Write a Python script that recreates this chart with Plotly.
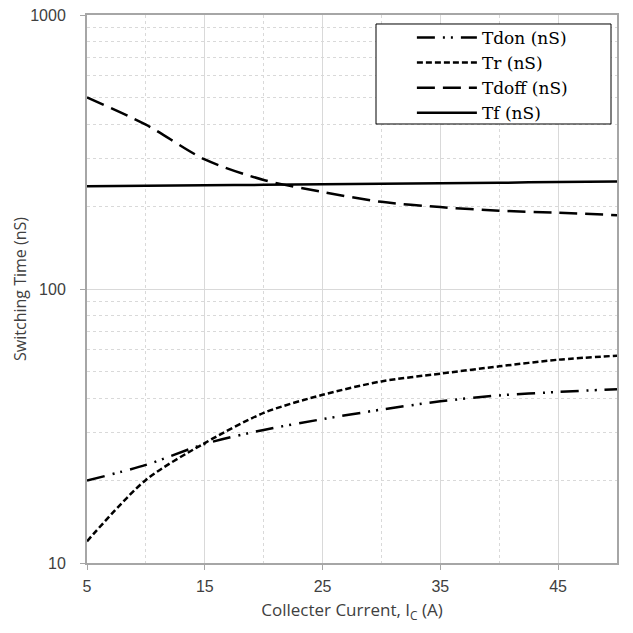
import plotly.graph_objects as go

ic = [5, 10, 15, 20, 25, 30, 35, 40, 45, 50]
tdon = [20.0, 22.8, 27.2, 30.6, 33.5, 36.3, 38.9, 40.9, 42.1, 43.1]
tr = [12.0, 20.1, 27.4, 35.3, 41.1, 46.0, 49.1, 52.2, 55.2, 57.1]
tdoff = [500, 398, 297, 250, 226, 208, 199, 193, 190, 186]
tf = [237, 238, 239, 240, 241, 242, 243, 244, 246, 247]

x_ticks = [5, 15, 25, 35, 45]
y_ticks = [10, 100, 1000]
y_tick_text = ["10", "100", "1000"]

series = [
    ("Tdon (nS)", tdon, "18px,8px,2px,6px,2px,8px"),
    ("Tr (nS)", tr, "6px,3px"),
    ("Tdoff (nS)", tdoff, "18px,8px"),
    ("Tf (nS)", tf, "solid"),
]

fig = go.Figure()
for name, vals, dash in series:
    fig.add_trace(go.Scatter(
        x=ic, y=vals, name=name, mode="lines",
        line=dict(color="black", width=2.5, dash=dash, shape="spline", smoothing=0.8),
    ))

# legend frame
fig.add_shape(type="rect", xref="paper", yref="paper",
              x0=0.5453, x1=0.9887, y0=0.8011, y1=0.9836,
              fillcolor="white", line=dict(color="black", width=1), layer="above")

grid_c = "#d9d9d9"
fig.update_layout(
    width=633, height=633,
    margin=dict(l=87, r=16, t=15, b=70, autoexpand=False),
    plot_bgcolor="white", paper_bgcolor="white",
    showlegend=True,
    legend=dict(
        x=0.613, y=0.991, xanchor="left", yanchor="top",
        bgcolor="rgba(0,0,0,0)", borderwidth=0,
        font=dict(family="DejaVu Serif", size=17, color="black"),
        tracegroupgap=0, itemwidth=60,
    ),
    xaxis=dict(
        range=[5, 50], tickvals=x_ticks, automargin=False,
        showgrid=True, gridcolor=grid_c, gridwidth=1,
        minor=dict(dtick=5, tick0=0, showgrid=True, gridcolor=grid_c, griddash="dot", gridwidth=1),
        showline=True, linecolor="#a6a6a6", linewidth=2, mirror=True,
        ticks="outside", ticklen=5, tickcolor="#a6a6a6", ticklabelstandoff=3,
        tickfont=dict(family="Liberation Sans", size=16, color="#404040"),
        title=dict(text="Collecter Current, I<sub>C</sub> (A)",
                   font=dict(family="Open Sans", size=17, color="#404040"), standoff=10),
        zeroline=False,
    ),
    yaxis=dict(
        type="log", range=[1, 3], tickvals=y_ticks, ticktext=y_tick_text, automargin=False,
        showgrid=True, gridcolor=grid_c, gridwidth=1,
        minor=dict(dtick="D1", showgrid=True, gridcolor=grid_c, griddash="dot", gridwidth=1),
        showline=True, linecolor="#a6a6a6", linewidth=2, mirror=True,
        ticks="outside", ticklen=5, tickcolor="#a6a6a6", ticklabelstandoff=11,
        tickfont=dict(family="Liberation Sans", size=16, color="#404040"),
        title=dict(text="Switching Time (nS)",
                   font=dict(family="Open Sans", size=16, color="#404040"), standoff=0),
        zeroline=False,
    ),
)

fig.write_html("out.html", config={"displayModeBar": False},
               post_script="document.body.style.margin='0';")
